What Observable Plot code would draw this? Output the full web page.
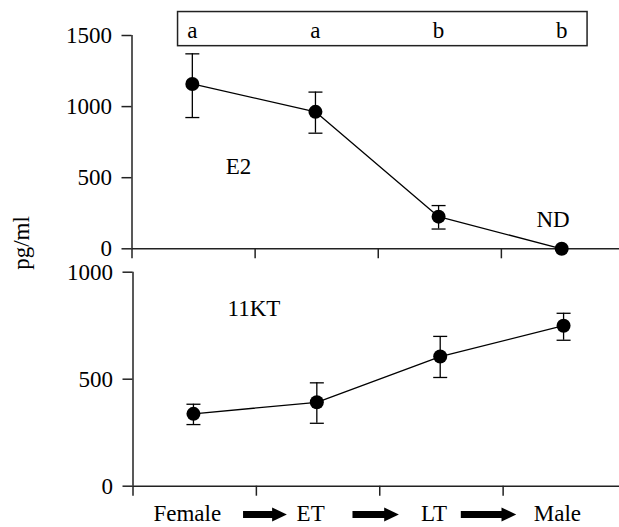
<!DOCTYPE html>
<html><head><meta charset="utf-8">
<script src="https://cdn.jsdelivr.net/npm/d3@7"></script>
<script src="https://cdn.jsdelivr.net/npm/@observablehq/plot@0.6"></script>
<style>
body{margin:0;background:#fff;}
#wrap{position:relative;width:619px;height:527px;overflow:hidden;font-family:"Liberation Serif",Tinos,"Times New Roman",Times,"DejaVu Serif",serif;color:#000;}
#wrap svg, #wrap svg text{font-family:"Liberation Serif",Tinos,"Times New Roman",Times,"DejaVu Serif",serif !important;}
#top{position:absolute;left:0;top:0;}
#bottom{position:absolute;left:0;top:262px;}
#ylab{position:absolute;left:22px;top:243px;transform:translate(-50%,-50%) rotate(-90deg);font-size:23px;white-space:nowrap;}
</style></head><body>
<div id="wrap"><div id="top"></div><div id="bottom"></div><div id="ylab">pg/ml</div></div>
<script>
// ---- data ----
const stages = ["Female", "ET", "LT", "Male"];
const e2Mean = [1159, 963, 226, 0];
const e2Upper = [1371, 1102, 304, null];
const e2Lower = [923, 813, 139, null];
const e2Letters = ["a", "a", "b", "b"];
const ktMean = [338, 392, 606, 750];
const ktUpper = [383, 483, 700, 808];
const ktLower = [288, 294, 508, 682];
const e2Ticks = [0, 500, 1000, 1500];
const ktTicks = [0, 500, 1000];

// ---- layout helpers ----
const FS = 23;
const pos = i => i + 0.49;
const capSymbol = {draw(ctx, size) {const r = Math.sqrt(size / Math.PI); ctx.moveTo(-r, 0); ctx.lineTo(r, 0);}};
const headSymbol = {draw(ctx, size) {const r = Math.sqrt(size / Math.PI); ctx.moveTo(0, 0); ctx.lineTo(-2.1 * r, -r); ctx.lineTo(-2.1 * r, r); ctx.closePath();}};
const axisStyle = {stroke: "#222", strokeWidth: 1.5};
const fmt = d => String(d);

const e2 = stages.map((s, i) => ({s, x: pos(i), y: e2Mean[i], hi: e2Upper[i], lo: e2Lower[i], letter: e2Letters[i]}));
const e2Err = e2.filter(d => d.hi != null);
const kt = stages.map((s, i) => ({s, x: pos(i), y: ktMean[i], hi: ktUpper[i], lo: ktLower[i]}));

const topChart = Plot.plot({
  width: 619, height: 262,
  marginLeft: 131.5, marginRight: 0, marginTop: 35, marginBottom: 13.7,
  style: {fontSize: FS + "px", color: "#000", background: "#fff", overflow: "visible"},
  x: {domain: [0, 4], range: [131.5, 624]},
  y: {domain: [0, 1500]},
  marks: [
    Plot.rect([0], {x1: 0.374, x2: 3.70, y1: 1425, y2: 1665, fill: "none", stroke: "#222", strokeWidth: 1.5}),
    Plot.text(e2, {x: "x", y: 1484, text: "letter", lineAnchor: "bottom", fontSize: FS}),
    Plot.ruleY([0], axisStyle),
    Plot.ruleX([0], axisStyle),
    Plot.axisX({ticks: [0, 1, 2, 3, 4], tickSize: 10, tickFormat: () => "", label: null, ...axisStyle}),
    Plot.axisY({ticks: e2Ticks, tickSize: 10, tickPadding: 10, tickFormat: fmt, fontSize: FS, label: null, ...axisStyle}),
    Plot.ruleX(e2Err, {x: "x", y1: "lo", y2: "hi", stroke: "#000", strokeWidth: 1.3}),
    Plot.dot(e2Err, {x: "x", y: "hi", symbol: capSymbol, r: 7, stroke: "#000", strokeWidth: 1.3}),
    Plot.dot(e2Err, {x: "x", y: "lo", symbol: capSymbol, r: 7, stroke: "#000", strokeWidth: 1.3}),
    Plot.line(e2, {x: "x", y: "y", stroke: "#000", strokeWidth: 1.3}),
    Plot.dot(e2, {x: "x", y: "y", r: 7, fill: "#000"}),
    Plot.text([{t: "E2", x: 0.865, y: 575}, {t: "ND", x: 3.42, y: 207}], {x: "x", y: "y", text: "t", fontSize: FS})
  ]
});
document.getElementById("top").append(topChart);

const arrows = [[0.896, 1.247], [1.783, 2.155], [2.661, 3.106]];
const bottomChart = Plot.plot({
  width: 619, height: 265,
  marginLeft: 132.5, marginRight: 0, marginTop: 9.7, marginBottom: 41.3,
  style: {fontSize: FS + "px", color: "#000", background: "#fff", overflow: "visible"},
  x: {domain: [0, 4], range: [132.5, 626]},
  y: {domain: [0, 1000]},
  marks: [
    Plot.ruleY([0], axisStyle),
    Plot.ruleX([0], axisStyle),
    Plot.axisX({ticks: [0, 1, 2, 3, 4], tickSize: 10, tickFormat: () => "", label: null, ...axisStyle}),
    Plot.axisY({ticks: ktTicks, tickSize: 10, tickPadding: 10, tickFormat: fmt, fontSize: FS, label: null, ...axisStyle}),
    Plot.ruleX(kt, {x: "x", y1: "lo", y2: "hi", stroke: "#000", strokeWidth: 1.3}),
    Plot.dot(kt, {x: "x", y: "hi", symbol: capSymbol, r: 7, stroke: "#000", strokeWidth: 1.3}),
    Plot.dot(kt, {x: "x", y: "lo", symbol: capSymbol, r: 7, stroke: "#000", strokeWidth: 1.3}),
    Plot.line(kt, {x: "x", y: "y", stroke: "#000", strokeWidth: 1.3}),
    Plot.dot(kt, {x: "x", y: "y", r: 7, fill: "#000"}),
    Plot.text([{t: "11KT", x: 0.98, y: 832}], {x: "x", y: "y", text: "t", fontSize: FS}),
    Plot.text(stages, {x: (d, i) => i + 0.44, frameAnchor: "bottom", dy: 35, lineAnchor: "bottom", text: d => d, fontSize: FS}),
    Plot.ruleY(arrows, {x1: d => d[0], x2: d => d[1] - 0.1, y: 0, dy: 28.3, stroke: "#000", strokeWidth: 7}),
    Plot.dot(arrows, {x: d => d[1], y: 0, dy: 28.3, symbol: headSymbol, r: 7, fill: "#000", stroke: "none"})
  ]
});
document.getElementById("bottom").append(bottomChart);
</script>
</body></html>
